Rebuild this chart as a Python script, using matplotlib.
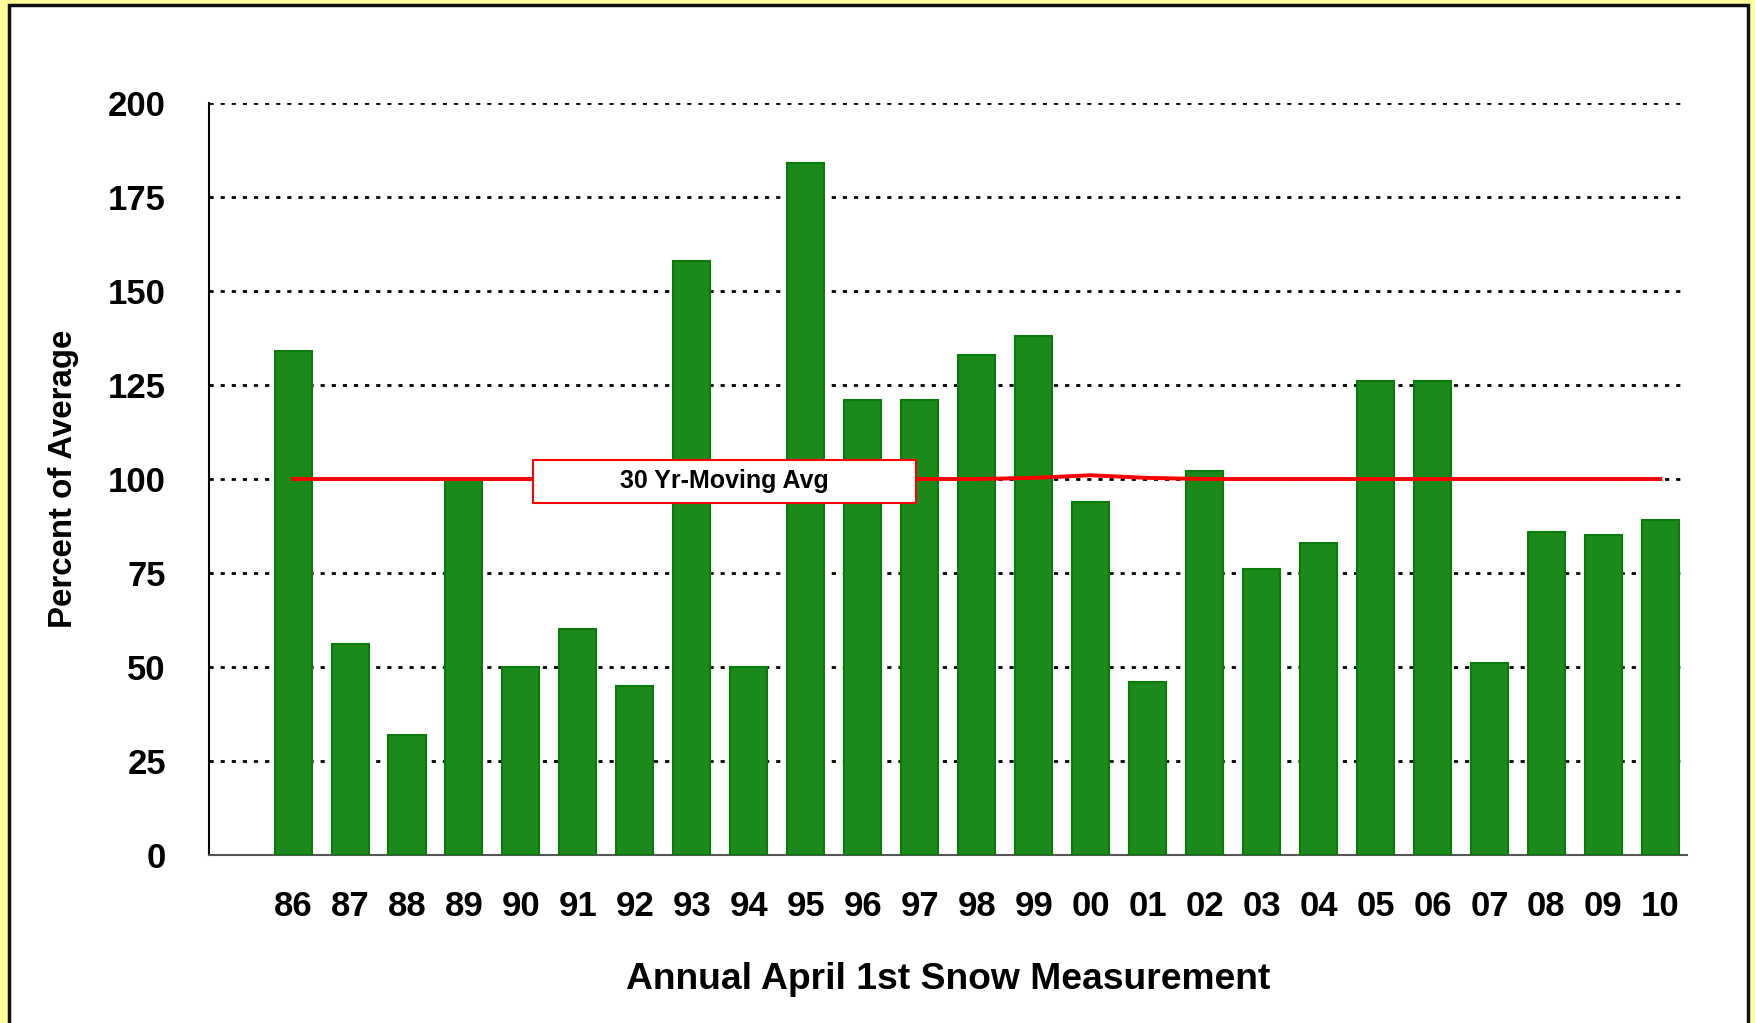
import matplotlib.pyplot as plt
from matplotlib.patches import Rectangle

plt.rcParams["font.family"] = ["Liberation Sans", "DejaVu Sans"]
plt.rcParams["font.weight"] = "bold"
plt.rcParams["axes.labelweight"] = "bold"

years = ["86", "87", "88", "89", "90", "91", "92", "93", "94", "95", "96", "97", "98",
         "99", "00", "01", "02", "03", "04", "05", "06", "07", "08", "09", "10"]
percent_of_avg = [134, 56, 32, 100, 50, 60, 45, 158, 50, 184, 121, 121, 133,
                  138, 94, 46, 102, 76, 83, 126, 126, 51, 86, 85, 89]
moving_avg = [100, 100, 100, 100, 100, 100, 100, 100, 100, 100, 100, 100, 100,
              100.3, 101, 100.3, 100, 100, 100, 100, 100, 100, 100, 100, 100]
y_ticks = [0, 25, 50, 75, 100, 125, 150, 175, 200]

fig = plt.figure(figsize=(17.55, 10.23), dpi=100)
fig.patch.set_facecolor("#ffff99")
fig.patches.append(Rectangle((9 / 1755, -0.05), 1739 / 1755, 1.05 - 5 / 1023,
                             transform=fig.transFigure, facecolor="white",
                             edgecolor="#111111", linewidth=2.5, zorder=-10))

ax = fig.add_axes([0.1191, 0.1642, 0.8422, 0.7351])
ax.set_facecolor("white")
x = range(len(years))
ax.bar(x, percent_of_avg, width=0.65, color="#1b8a1b", edgecolor="#087c08",
       linewidth=1.5, zorder=3)
ax.plot(x, moving_avg, color="#ff0000", linewidth=2.8, zorder=4)

ax.set_xlim(-1.475, 24.47)
ax.set_ylim(0, 200)
ax.set_yticks(y_ticks)
ax.yaxis.grid(True, linestyle=(0, (1.5, 2.5)), color="black", linewidth=2, zorder=1)
ax.set_axisbelow(True)
ax.set_xticks(list(x), years)
ax.tick_params(axis="both", length=0, labelsize=25)
ax.tick_params(axis="x", pad=25)
ax.tick_params(axis="y", pad=31)
for side in ("top", "right"):
    ax.spines[side].set_visible(False)
ax.spines["left"].set_linewidth(1.5)
ax.spines["bottom"].set_color("#555555")
ax.spines["bottom"].set_linewidth(1.5)

ax.set_ylabel("Percent of Average", fontsize=23.8, labelpad=21)
ax.set_xlabel("Annual April 1st Snow Measurement", fontsize=26.8, labelpad=28)

# legend box for the moving average line
ax.add_patch(Rectangle((0.2195, 0.4682), 0.2591, 0.0572, transform=ax.transAxes,
                       facecolor="white", edgecolor="#ff0000", linewidth=1.5, zorder=5))
ax.text(0.349, 0.4968, "30 Yr-Moving Avg", transform=ax.transAxes, fontsize=18,
        ha="center", va="center", zorder=6)

fig.savefig("out.png", dpi=100, facecolor=fig.get_facecolor())
